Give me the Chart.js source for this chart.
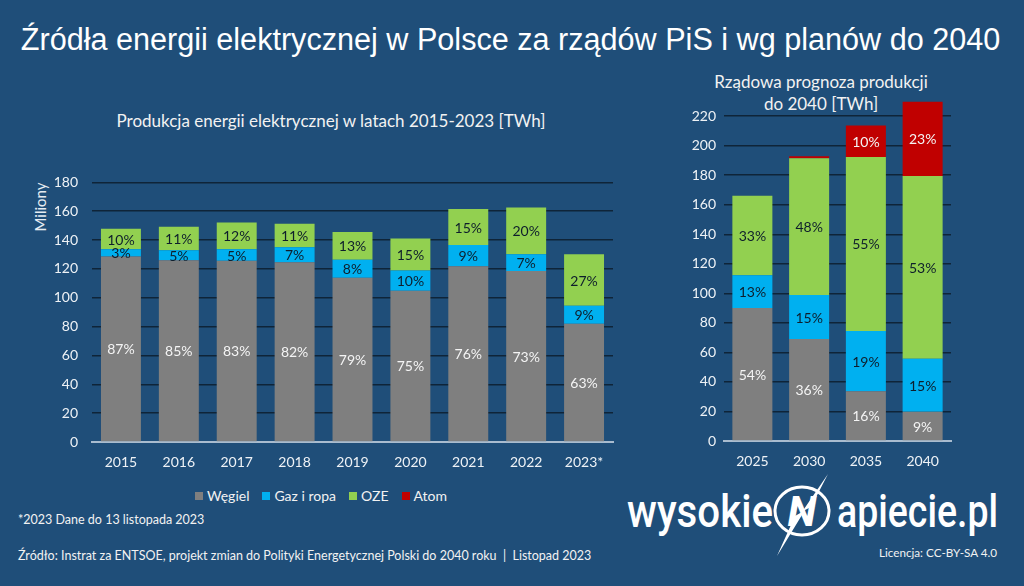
<!DOCTYPE html>
<html lang="pl">
<head>
<meta charset="utf-8">
<script src="https://cdn.jsdelivr.net/npm/chart.js@4.4.1/dist/chart.umd.min.js"></script>
<style>
html,body{margin:0;padding:0;}
body{width:1024px;height:586px;overflow:hidden;background:#1f4e79;position:relative;font-family:Lato,'Open Sans',sans-serif;color:#fff;}
.abs{position:absolute;white-space:nowrap;}
#title{left:0;top:24px;width:1021px;text-align:center;font-family:'Liberation Sans',Arial,sans-serif;font-size:30.6px;line-height:1;color:#fff;}
#subL{left:0;width:662px;top:111px;text-align:center;font-size:17px;line-height:20px;color:#f2f2f2;}
#subR{left:700px;width:242px;top:71px;text-align:center;font-size:17px;line-height:22px;color:#f2f2f2;}
#milio{left:40px;top:207px;transform:translate(-50%,-50%) rotate(-90deg);font-size:15px;color:#e6ecf2;}
#legend{left:195px;top:486px;font-size:14px;line-height:20px;color:#f2f2f2;display:flex;}
#legend span.it{display:flex;align-items:center;margin-right:13px;}
#legend i{display:inline-block;width:8px;height:8px;margin-right:4px;}
#foot{left:18px;top:511px;font-size:12.5px;line-height:18px;color:#f2f2f2;}
#src{left:18px;top:547px;font-size:12.5px;line-height:18px;color:#f2f2f2;}
#lic{right:27px;top:543px;font-size:11.7px;line-height:18px;color:#f2f2f2;}
#cL{position:absolute;left:20px;top:160px;}
#cR{position:absolute;left:680px;top:85px;}
#logo{position:absolute;left:600px;top:460px;}
</style>
</head>
<body>
<div id="title" class="abs">Źródła energii elektrycznej w Polsce za rządów PiS i wg planów do 2040</div>
<div id="subL" class="abs">Produkcja energii elektrycznej w latach 2015-2023 [TWh]</div>
<div id="subR" class="abs">Rządowa prognoza produkcji<br>do 2040 [TWh]</div>
<div id="milio" class="abs">Miliony</div>
<div id="legend" class="abs"></div>
<div id="foot" class="abs">*2023 Dane do 13 listopada 2023</div>
<div id="src" class="abs">Źródło: Instrat za ENTSOE, projekt zmian do Polityki Energetycznej Polski do 2040 roku&nbsp; |&nbsp; Listopad 2023</div>
<div id="lic" class="abs">Licencja: CC-BY-SA 4.0</div>
<svg id="logo" width="424" height="110" viewBox="0 0 424 110">
  <text x="27" y="67" font-family="Roboto, sans-serif" font-weight="500" font-size="46" fill="#fff" textLength="146" lengthAdjust="spacingAndGlyphs">wysokie</text>
  <ellipse cx="202" cy="51" rx="27" ry="24" fill="none" stroke="#fff" stroke-width="3"/>
  <text x="202" y="66" text-anchor="middle" font-family="Roboto, sans-serif" font-style="italic" font-weight="700" font-size="42" fill="#fff">N</text>
  <polygon points="228,14 211,47 205,50 177,96 195,56 202,52" fill="#fff"/>
  <text x="237" y="67" font-family="Roboto, sans-serif" font-weight="500" font-size="46" fill="#fff" textLength="161" lengthAdjust="spacingAndGlyphs">apiecie.pl</text>
</svg>
<canvas id="cL" width="600" height="315"></canvas>
<canvas id="cR" width="290" height="390"></canvas>
<script>
// ---- Data: historical production (TWh) ----
const yearsHist = ['2015','2016','2017','2018','2019','2020','2021','2022','2023*'];
const coalHist  = [128.6, 126.1, 125.7, 124.6, 113.9, 104.9, 121.9, 118.5, 82.0];
const gasHist   = [5.0, 6.9, 7.9, 10.4, 12.5, 14.0, 14.7, 11.7, 12.4];
const ozeHist   = [14.3, 16.2, 18.6, 16.3, 19.2, 22.2, 24.9, 32.4, 35.8];
const coalHistPct = ['87%','85%','83%','82%','79%','75%','76%','73%','63%'];
const gasHistPct  = ['3%','5%','5%','7%','8%','10%','9%','7%','9%'];
const ozeHistPct  = ['10%','11%','12%','11%','13%','15%','15%','20%','27%'];
const histTicks = [0,20,40,60,80,100,120,140,160,180];

// ---- Data: government forecast (TWh) ----
const yearsPlan = ['2025','2030','2035','2040'];
const coalPlan  = [90.0, 69.0, 33.7, 19.8];
const gasPlan   = [22.3, 29.8, 40.8, 35.9];
const ozePlan   = [53.8, 92.7, 117.9, 123.7];
const atomPlan  = [0, 1.4, 21.3, 50.5];
const coalPlanPct = ['54%','36%','16%','9%'];
const gasPlanPct  = ['13%','15%','19%','15%'];
const ozePlanPct  = ['33%','48%','55%','53%'];
const atomPlanPct = ['','','10%','23%'];
const planTicks = [0,20,40,60,80,100,120,140,160,180,200,220];

const seriesNames = ['Węgiel','Gaz i ropa','OZE','Atom'];
const COL = {coal:'#7f7f7f', gas:'#00b0f0', oze:'#92d050', atom:'#c00000'};
const DARK = '#0e1e2c', LIGHT = '#f4f4f4';

// legend
const lg = document.getElementById('legend');
[COL.coal,COL.gas,COL.oze,COL.atom].forEach((c,i)=>{
  const s=document.createElement('span');s.className='it';
  s.innerHTML='<i style="background:'+c+'"></i>'+seriesNames[i];
  lg.appendChild(s);
});

const segLabels = {
  id:'segLabels',
  afterDatasetsDraw(chart){
    const ctx=chart.ctx;
    chart.data.datasets.forEach((ds,i)=>{
      const meta=chart.getDatasetMeta(i);
      meta.data.forEach((el,j)=>{
        const t=ds.segLabels&&ds.segLabels[j];
        if(!t) return;
        const p=el.getProps(['x','y','base'],true);
        ctx.save();
        ctx.font='14px Lato';
        ctx.fillStyle=ds.labelColor;
        ctx.textAlign='center';ctx.textBaseline='middle';
        ctx.fillText(t,p.x,(p.y+p.base)/2+1);
        ctx.restore();
      });
    });
  }
};

function makeScales(yMax, ticksList, yWidth, xHeight, yPad){
  return {
    x:{stacked:true,
       grid:{display:false,drawTicks:false},
       border:{display:true,color:'#a9bccf',width:2},
       ticks:{color:'#eef2f6',font:{family:'Lato',size:14},padding:12},
       afterFit(s){s.height=xHeight;}},
    y:{stacked:true,min:0,max:yMax,
       afterBuildTicks(s){s.ticks=ticksList.map(v=>({value:v}));},
       ticks:{color:'#eef2f6',font:{family:'Lato',size:14},padding:yPad},
       grid:{drawTicks:false,lineWidth:1.5,color:c=>c.tick&&c.tick.value===0?'rgba(0,0,0,0)':'#0f2438'},
       border:{display:false},
       afterFit(s){s.width=yWidth;}}
  };
}
function ds(label,data,color,pct,lc,bp){
  return {label,data,backgroundColor:color,borderWidth:0,segLabels:pct,labelColor:lc,
          categoryPercentage:1,barPercentage:bp};
}
Chart.defaults.font.family='Lato';
new Chart(document.getElementById('cL'),{
  type:'bar',
  data:{labels:yearsHist,datasets:[
    ds(seriesNames[0],coalHist,COL.coal,coalHistPct,LIGHT,0.69),
    ds(seriesNames[1],gasHist,COL.gas,gasHistPct,DARK,0.69),
    ds(seriesNames[2],ozeHist,COL.oze,ozeHistPct,DARK,0.69)
  ]},
  options:{responsive:false,animation:false,
    layout:{padding:{top:17,right:7,left:0,bottom:0}},
    plugins:{legend:{display:false},tooltip:{enabled:false}},
    scales:makeScales(180,histTicks,72,33,14)},
  plugins:[segLabels]
});
new Chart(document.getElementById('cR'),{
  type:'bar',
  data:{labels:yearsPlan,datasets:[
    ds(seriesNames[0],coalPlan,COL.coal,coalPlanPct,LIGHT,0.705),
    ds(seriesNames[1],gasPlan,COL.gas,gasPlanPct,DARK,0.705),
    ds(seriesNames[2],ozePlan,COL.oze,ozePlanPct,DARK,0.705),
    ds(seriesNames[3],atomPlan,COL.atom,atomPlanPct,LIGHT,0.705)
  ]},
  options:{responsive:false,animation:false,
    layout:{padding:{top:14,right:19,left:0,bottom:0}},
    plugins:{legend:{display:false},tooltip:{enabled:false}},
    scales:makeScales(230,planTicks,44,34,8)},
  plugins:[segLabels]
});
</script>
</body>
</html>
